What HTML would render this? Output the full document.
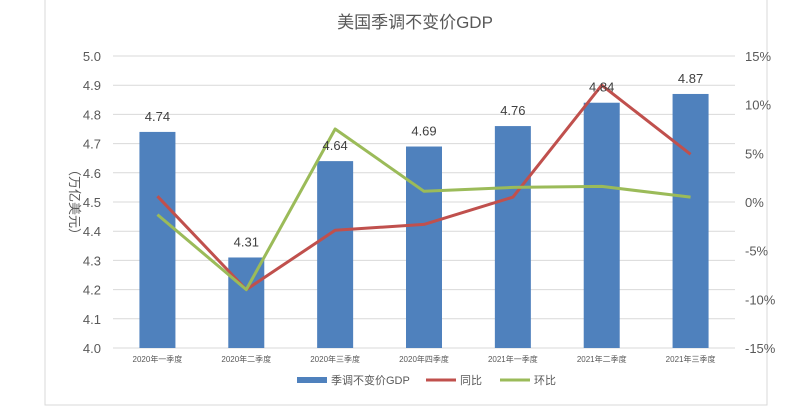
<!DOCTYPE html>
<html><head><meta charset="utf-8"><style>
body{margin:0;background:#fff;}
svg{display:block;font-family:"Liberation Sans","Noto Sans CJK SC",sans-serif;}
</style></head><body>
<svg id="c" width="787" height="416">
<rect x="45" y="-1" width="722" height="406" fill="#fff" stroke="#d9d9d9"/>
<text x="415" y="28" text-anchor="middle" font-size="17" fill="#595959">美国季调不变价GDP</text>
<text transform="translate(70,202) rotate(90)" text-anchor="middle" font-size="13" fill="#595959">（万亿美元）</text>
<g id="grid"></g><g id="bars"></g><g id="lines"></g><g id="labels"></g>
<g font-size="11" fill="#595959">
<rect x="297" y="377" width="30" height="6" fill="#4f81bd"/>
<text x="331" y="384">季调不变价GDP</text>
<line x1="426" y1="380" x2="456" y2="380" stroke="#c0504d" stroke-width="3"/>
<text x="460" y="384">同比</text>
<line x1="500" y1="380" x2="530" y2="380" stroke="#9bbb59" stroke-width="3"/>
<text x="534" y="384">环比</text>
</g>
</svg>
<script>
const categories=["2020年一季度","2020年二季度","2020年三季度","2020年四季度","2021年一季度","2021年二季度","2021年三季度"];
const gdp=[4.74,4.31,4.64,4.69,4.76,4.84,4.87];
const yoy=[0.6,-9.0,-2.9,-2.3,0.5,12.0,4.9];
const qoq=[-1.3,-9.0,7.5,1.1,1.5,1.6,0.5];
const leftTicks=[4.0,4.1,4.2,4.3,4.4,4.5,4.6,4.7,4.8,4.9,5.0];
const rightTicks=[-15,-10,-5,0,5,10,15];
const NS="http://www.w3.org/2000/svg";
const X0=113,X1=735,Y0=348,Y1=56;
const bw=(X1-X0)/categories.length;
const xc=i=>X0+bw*(i+0.5);
const yL=v=>Y0-(v-4.0)/(5.0-4.0)*(Y0-Y1);
const yR=v=>Y0-(v+15)/30*(Y0-Y1);
function mk(tag,attrs,parent,txt){const e=document.createElementNS(NS,tag);for(const k in attrs)e.setAttribute(k,attrs[k]);if(txt!==undefined)e.textContent=txt;document.getElementById(parent).appendChild(e);return e;}
leftTicks.forEach(t=>{
 const l=mk('line',{x1:X0,x2:X1,y1:yL(t),y2:yL(t),stroke:'#d9d9d9','stroke-width':1},'grid');
 
 
 const tx=mk('text',{x:101,y:yL(t)+5,'text-anchor':'end','font-size':13,fill:'#595959'},'grid',t.toFixed(1));
 
 
});
rightTicks.forEach(t=>{
 const tx=mk('text',{x:745,y:yR(t)+5,'font-size':13,fill:'#595959'},'grid',t+'%');
 
 
});
categories.forEach((c,i)=>{
 const b=mk('rect',{x:xc(i)-18,y:yL(gdp[i]),width:36,height:Y0-yL(gdp[i]),fill:'#4f81bd'},'bars');
 
 
 const tx=mk('text',{x:xc(i),y:yL(gdp[i])-11,'text-anchor':'middle','font-size':13,fill:'#404040'},'labels',gdp[i].toFixed(2));
 
 
 const cx=mk('text',{x:xc(i),y:362,'text-anchor':'middle','font-size':8,fill:'#595959'},'labels',c);
 
 
});
function line(arr,color,name){
 const p=mk('polyline',{points:arr.map((v,i)=>xc(i)+','+yR(v)).join(' '),fill:'none',stroke:color,'stroke-width':3,'stroke-linejoin':'round'},'lines');
 
 
}
line(yoy,'#c0504d','line-yoy');
line(qoq,'#9bbb59','line-qoq');
</script>
</body></html>
